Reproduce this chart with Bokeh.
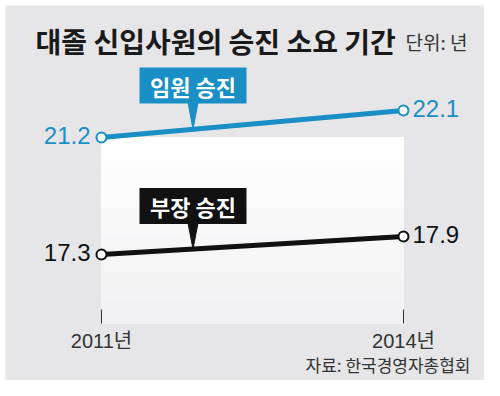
from bokeh.plotting import figure
from bokeh.models import Label, FixedTicker, Range1d
from bokeh.embed import file_html
from bokeh.resources import INLINE
from bokeh.core.properties import value

# ---- data ----
years = [2011, 2014]
year_labels = ["2011년", "2014년"]
exec_vals = [21.2, 22.1]   # 임원 승진
mgr_vals = [17.3, 17.9]    # 부장 승진
series_names = ["임원 승진", "부장 승진"]
title_text = "대졸 신입사원의 승진 소요 기간"
unit_text = "단위: 년"
source_text = "자료: 한국경영자총협회"

BLUE = "#1a8fc6"
BLACK = "#111111"
GRAY = "#e6e6e8"
KR = "Noto Sans CJK KR"
NUM = "Liberation Sans Narrow, Liberation Sans"

W, H = 484, 380
M = 5                       # white margin round the gray panel
FW, FH = W - M, H - M
PX = 302 / 3.0
PY = 30.0
X0 = years[0] - (101 - M) / PX
X1 = X0 + FW / PX
Y1 = exec_vals[0] + (137 - M) / PY
Y0 = Y1 - FH / PY
AX_Y = exec_vals[0] - (323 - 137) / PY   # baseline of the white panel / axis

p = figure(width=W, height=H, output_backend="svg", toolbar_location=None,
           x_range=Range1d(X0, X1), y_range=Range1d(Y0, Y1),
           y_axis_location=None, min_border_left=M, min_border_right=0,
           min_border_top=M, min_border_bottom=0)
p.background_fill_color = GRAY
p.border_fill_color = "white"
p.outline_line_color = None
p.grid.visible = False

# white-to-light-gray panel between the two years
N = 40
top = exec_vals[0]
lefts, rights, tops, bottoms, cols = [], [], [], [], []
for i in range(N):
    t = i / (N - 1)
    ytop = top - (top - AX_Y) * i / N
    ybot = top - (top - AX_Y) * (i + 1) / N
    c = (int(round(255 - 14 * t)), int(round(255 - 14 * t)), int(round(255 - 12 * t)))
    lefts.append(years[0]); rights.append(years[1])
    tops.append(ytop); bottoms.append(ybot)
    cols.append("#%02x%02x%02x" % c)
p.quad(left=lefts, right=rights, top=tops, bottom=bottoms,
       fill_color=cols, line_color=cols, line_width=1)

# x axis
ax = p.xaxis[0]
ax.fixed_location = AX_Y
ax.ticker = FixedTicker(ticks=years)
ax.major_label_overrides = {y: l for y, l in zip(years, year_labels)}
ax.axis_line_color = None
ax.major_tick_line_color = "#333333"
ax.major_tick_line_width = 1
ax.major_tick_in = 14
ax.major_tick_out = 0
ax.minor_tick_line_color = None
ax.major_label_text_font = "Liberation Sans, Noto Sans CJK KR"
ax.major_label_text_font_size = "20px"
ax.major_label_text_color = "#333333"
ax.major_label_standoff = 6

# series lines
for vals, col in [(exec_vals, BLUE), (mgr_vals, BLACK)]:
    p.line(years, vals, line_width=5, line_color=col)
    p.scatter(years, vals, size=10, fill_color="white", line_color=col, line_width=2)
    p.text(x=[years[0]], y=[vals[0]], text=[f"{vals[0]:.1f}"], x_offset=-11, y_offset=-2,
           text_align="right", text_baseline="middle", text_color=col,
           text_font=value(NUM), text_font_size="24px")
    p.text(x=[years[1]], y=[vals[1]], text=[f"{vals[1]:.1f}"], x_offset=9, y_offset=-2,
           text_align="left", text_baseline="middle", text_color=col,
           text_font=value(NUM), text_font_size="24px")

# callout boxes
bx = years[0] + (192.5 - 101) / PX
for name, vals, col, by_px in [(series_names[0], exec_vals, BLUE, 85.0),
                               (series_names[1], mgr_vals, BLACK, 205.5)]:
    by = Y1 - (by_px - M) / PY
    tip = vals[0] + (vals[1] - vals[0]) * (bx - years[0]) / (years[1] - years[0])
    base = by - 17 / PY
    hw = 5 / PX
    p.patch([bx - hw, bx + hw, bx], [base, base, tip], fill_color=col, line_color=col, line_width=1)
    p.rect(x=[bx], y=[by], width=107, height=36, width_units="screen", height_units="screen",
           fill_color=col, line_color=None)
    p.text(x=[bx], y=[by], text=[name], text_align="center", text_baseline="middle",
           text_color="white", text_font=value(KR), text_font_style="bold", text_font_size="22px")

# title, unit, source (screen units relative to the frame, y measured up from its bottom)
p.add_layout(Label(x=35 - M, y=H - 40.5, x_units="screen", y_units="screen", text=title_text,
                   text_font=KR, text_font_style="bold", text_font_size="28px",
                   text_color="#1a1a1a", text_align="left", text_baseline="middle"))
p.add_layout(Label(x=405 - M, y=H - 40.5, x_units="screen", y_units="screen", text=unit_text,
                   text_font=KR, text_font_size="19px",
                   text_color="#333333", text_align="left", text_baseline="middle"))
p.add_layout(Label(x=470 - M, y=H - 363.5, x_units="screen", y_units="screen", text=source_text,
                   text_font=KR, text_font_size="17px",
                   text_color="#333333", text_align="right", text_baseline="middle"))

open("out.html", "w").write(file_html(p, INLINE))
